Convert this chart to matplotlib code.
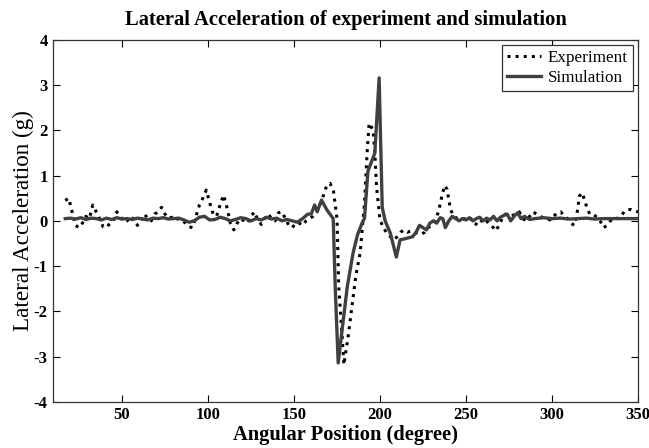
import numpy as np
import matplotlib
matplotlib.use('Agg')
import matplotlib.pyplot as plt

# 실험값 (각도, 횡가속도 g)
exp_deg = [17, 19, 21, 23, 25, 27, 29, 31, 33, 35, 37, 39, 41, 43, 45, 47, 49, 51, 53, 55,
           57, 59, 61, 63, 65, 67, 69, 71, 73, 75, 77, 79, 81, 83, 85, 87, 89, 91, 93, 95,
           97, 99, 101, 103, 105, 107, 109, 111, 113, 115, 117, 119, 121, 123, 125, 127, 129, 131, 133, 135,
           137, 139, 141, 143, 145, 147, 149, 151, 153, 155, 157, 159, 161, 163, 165, 167, 169, 171, 173, 175,
           176, 178, 179, 181.5, 184, 186, 188.5, 191, 192.5, 193.7, 196, 197, 198, 200, 202, 204, 206, 208, 210, 212,
           214, 216, 218, 220, 222, 224, 226, 228, 230, 232, 234, 236, 237.5, 239, 241, 243, 245, 247, 249, 251,
           253, 255, 257, 259, 261, 263, 265, 267, 269, 271, 273, 275, 277, 279, 281, 283, 285, 287, 289, 291,
           293, 295, 297, 299, 301, 303, 305, 307, 309, 311, 313, 314.5, 316, 317.6, 319, 320.5, 322, 324, 326, 328,
           330, 332, 334, 336, 338, 340, 342, 344, 346, 348, 350]
exp_acc = [0.45, 0.5, 0.2, -0.1, -0.15, -0.05, 0.1, 0.05, 0.35, 0.2, 0.05, -0.13, -0.15, -0.05, 0.0, 0.2, 0.1, -0.02, 0.0, 0.1,
           0.02, -0.1, 0.0, 0.15, 0.05, 0.0, 0.15, 0.2, 0.3, 0.15, 0.05, 0.08, 0.02, 0.05, 0.0, -0.05, -0.13, -0.15, 0.1, 0.35,
           0.5, 0.68, 0.4, 0.15, 0.1, 0.35, 0.57, 0.3, -0.05, -0.2, -0.05, 0.05, 0.0, -0.05, 0.1, 0.2, 0.02, -0.08, 0.05, 0.15,
           0.05, 0.0, 0.18, 0.2, 0.05, -0.1, -0.15, -0.05, -0.05, -0.1, 0.0, 0.05, 0.1, 0.2, 0.35, 0.55, 0.78, 0.83, 0.65, 0.05,
           -1.45, -2.55, -3.18, -2.55, -1.8, -1.2, -0.7, 0.4, 1.5, 2.16, 2.0, 1.5, 0.75, 0.02, -0.15, -0.27, -0.35, -0.42, -0.35, -0.25,
           -0.2, -0.25, -0.22, -0.25, -0.28, -0.3, -0.25, -0.15, -0.1, 0.0, 0.2, 0.55, 0.78, 0.7, 0.25, 0.1, 0.05, 0.02, 0.05, 0.0,
           0.05, -0.05, -0.1, 0.0, 0.05, -0.05, -0.1, -0.22, -0.12, 0.05, 0.15, 0.1, 0.12, 0.15, 0.2, 0.05, 0.0, 0.1, 0.2, 0.15,
           0.12, 0.05, 0.05, 0.02, 0.1, 0.18, 0.2, 0.12, 0.05, -0.05, -0.1, 0.15, 0.55, 0.62, 0.45, 0.27, 0.15, 0.15, 0.08, 0.0,
           -0.15, -0.1, 0.0, 0.07, 0.05, 0.1, 0.2, 0.25, 0.25, 0.22, 0.2]

# 시뮬레이션 값
sim_deg = [17, 20, 23, 26, 29, 32, 35, 38, 41, 44, 47, 50, 53, 56, 59, 62, 65, 68, 71, 74,
           77, 80, 83, 86, 89, 92, 95, 98, 101, 104, 107, 110, 113, 116, 119, 122, 125, 128, 131, 134,
           137, 140, 143, 146, 149, 152, 155, 158, 160, 162, 163.5, 166, 169, 172.8, 174, 175.7, 178, 181, 184.4, 187,
           189.6, 191, 193, 197, 199.5, 201.3, 203, 206, 209.5, 211.7, 214, 216, 219, 221, 223, 225, 227, 229, 231, 233,
           235, 236.5, 238, 240, 242, 244, 246, 248, 250, 252, 254, 256, 258, 260, 262, 264, 266, 268, 270, 272,
           274, 276, 278, 280, 282, 284, 287, 290, 295, 300, 305, 310, 315, 320, 325, 330, 335, 340, 345, 350]
sim_acc = [0.05, 0.06, 0.04, 0.07, 0.03, 0.06, 0.05, 0.02, 0.06, 0.03, 0.07, 0.04, 0.05, 0.03, 0.06, 0.04, 0.02, 0.06, 0.05, 0.07,
           0.04, 0.05, 0.06, 0.02, -0.03, 0.0, 0.08, 0.1, 0.02, 0.03, 0.08, 0.05, 0.0, 0.03, 0.07, 0.05, 0.0, 0.05, 0.02, 0.08,
           0.04, 0.06, 0.0, 0.03, 0.0, -0.03, 0.05, 0.15, 0.15, 0.35, 0.2, 0.46, 0.25, 0.05, -1.5, -3.14, -2.4, -1.45, -0.7, -0.3,
           -0.05, 0.06, 1.1, 1.5, 3.16, 0.3, 0.0, -0.27, -0.8, -0.42, -0.4, -0.38, -0.35, -0.25, -0.1, -0.15, -0.2, -0.05, 0.0, -0.05,
           0.07, 0.05, -0.15, 0.0, 0.1, 0.05, 0.0, 0.05, 0.02, 0.07, 0.0, 0.05, 0.08, 0.0, 0.06, 0.02, 0.1, 0.0, 0.08, 0.12,
           0.15, 0.0, 0.1, 0.18, 0.05, 0.1, 0.03, 0.05, 0.07, 0.05, 0.06, 0.04, 0.05, 0.06, 0.04, 0.05, 0.05, 0.05, 0.05, 0.05]

plt.rcParams['font.family'] = ['Liberation Serif', 'DejaVu Serif']
plt.rcParams['axes.unicode_minus'] = False  # 눈금에 하이픈 마이너스
plt.rcParams['xtick.direction'] = 'in'
plt.rcParams['ytick.direction'] = 'in'

fig = plt.figure(figsize=(6.49, 4.48), dpi=100)
ax = fig.add_axes([0.082, 0.103, 0.901, 0.808])

ax.plot(exp_deg, exp_acc, linestyle=':', color='black', linewidth=2.2, label='Experiment')
ax.plot(sim_deg, sim_acc, linestyle='-', color='#404040', linewidth=2.4, label='Simulation')

ax.set_xlim(10, 350)
ax.set_ylim(-4, 4)
ax.set_xticks([50, 100, 150, 200, 250, 300, 350])
ax.set_yticks(np.arange(-4, 5, 1))
ax.tick_params(top=True, right=True, length=5, width=0.8, labelsize=12, pad=4)
for lab in ax.get_xticklabels() + ax.get_yticklabels():
    lab.set_fontweight('bold')
for sp in ax.spines.values():
    sp.set_color('#333333')
    sp.set_linewidth(0.9)

ax.set_title('Lateral Acceleration of experiment and simulation', fontsize=14.8, fontweight='bold', pad=11)
ax.set_xlabel('Angular Position (degree)', fontsize=14.8, fontweight='bold', labelpad=1)
ax.set_ylabel('Lateral Acceleration (g)', fontsize=16.7, labelpad=0)

leg = ax.legend(loc='upper right', fontsize=12.3, fancybox=False, framealpha=1,
                edgecolor='#333333', borderpad=0.3, handlelength=2.0, handletextpad=0.4,
                labelspacing=0.2, borderaxespad=0.3)
leg.get_frame().set_linewidth(0.9)

fig.savefig('out.png', dpi=100)
